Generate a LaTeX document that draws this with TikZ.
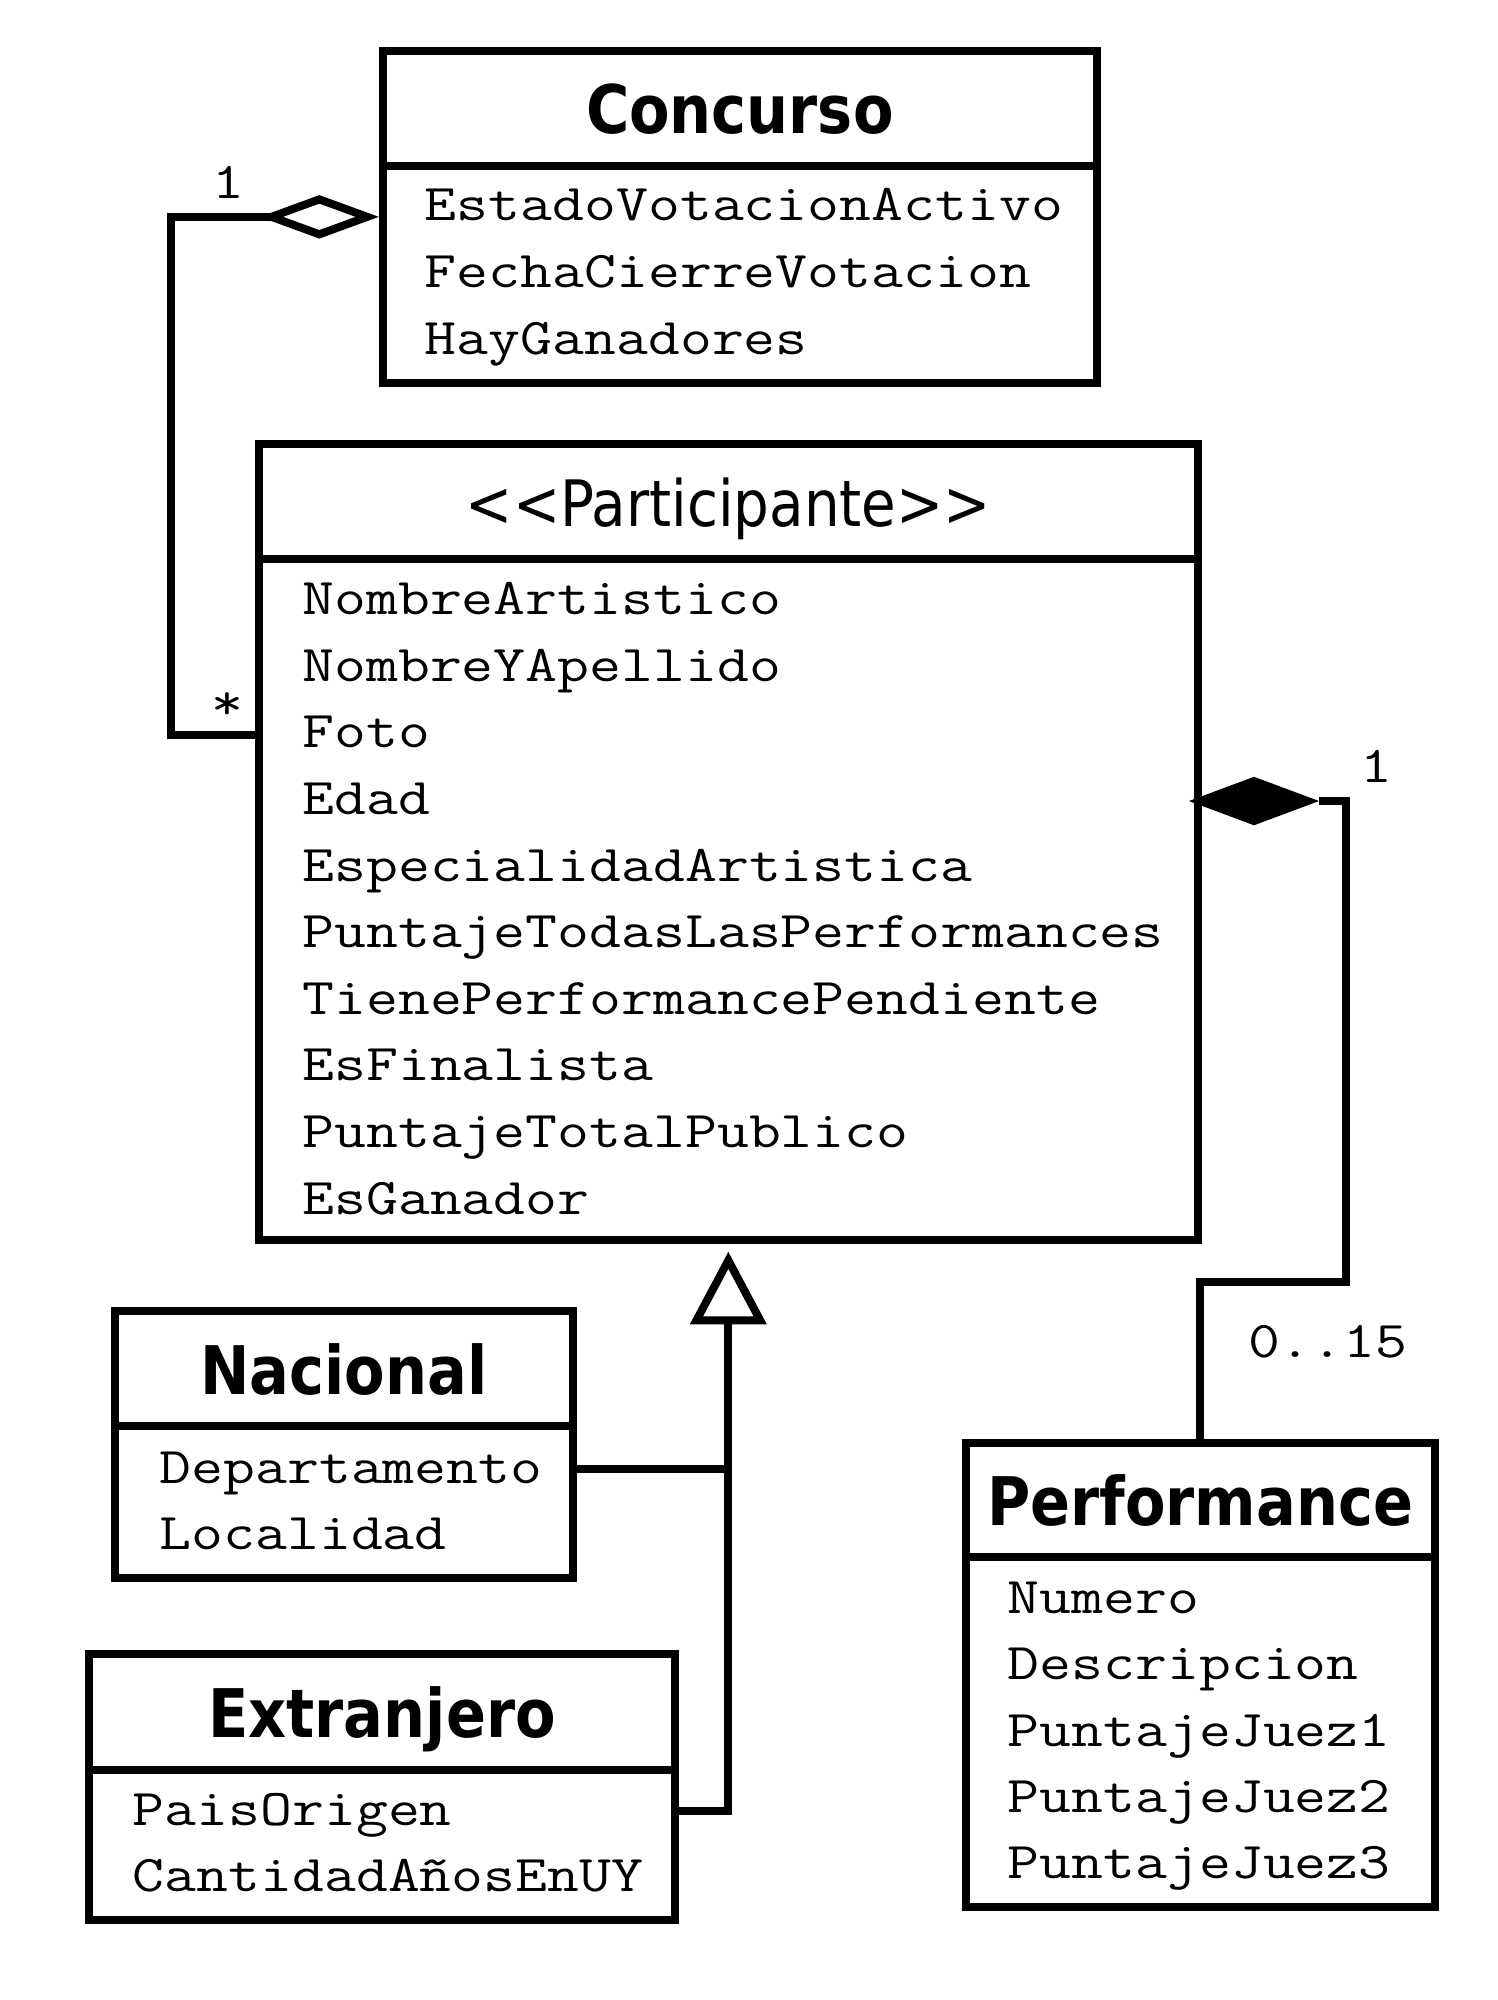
\documentclass[tikz,border=0pt]{standalone}
\usepackage{fontspec}
\usepackage{graphicx}
\usetikzlibrary{fit,calc}
\newfontfamily\headfont{DejaVu Sans}[FakeStretch=0.88]
\newcommand\sx[1]{\scalebox{1.2}[1]{#1}}
\begin{document}
\begin{tikzpicture}[x=1.2751pt, y=-1.2751pt,
  box/.style={draw, line width=8pt, inner sep=0pt, fill=white},
  conn/.style={draw, line width=8pt, miter limit=20},
  head/.style={font=\headfont\bfseries\fontsize{67}{70}\selectfont, inner sep=0pt, anchor=base},
  stereo/.style={font=\headfont\fontsize{64}{70}\selectfont, inner sep=0pt, anchor=base},
  attr/.style={font=\ttfamily\fontsize{51.6}{60}\selectfont, inner sep=0pt, anchor=base west},
  lbl/.style={font=\ttfamily\fontsize{51.6}{60}\selectfont, inner sep=0pt}
]
\useasboundingbox (0,0) rectangle (1174,1568);

% ---------- classes ----------
\node[box, fit={(300,40) (860,300)}] (concurso) {};
\draw[line width=8pt] (concurso.west |- 0,130) -- (concurso.east |- 0,130);
\node[head] (concursoT) at (580,105) {Concurso};
\foreach \t [count=\i] in {EstadoVotacionActivo, FechaCierreVotacion, HayGanadores}
  \node[attr] (ca\i) at (333, {173+52.5*(\i-1)}) {\sx{\t}};

\node[box, fit={(203,348) (939,972)}] (participante) {};
\draw[line width=8pt] (participante.west |- 0,438) -- (participante.east |- 0,438);
\node[stereo] (participanteT) at (571,413) {<\kern0pt<Participante>\kern0pt>};
\foreach \t [count=\i] in {NombreArtistico, NombreYApellido, Foto, Edad, EspecialidadArtistica, PuntajeTodasLasPerformances, TienePerformancePendiente, EsFinalista, PuntajeTotalPublico, EsGanador}
  \node[attr] (pa\i) at (237, {482+52.2*(\i-1)}) {\sx{\t}};

\node[box, fit={(90,1028) (449,1237)}] (nacional) {};
\draw[line width=8pt] (nacional.west |- 0,1118) -- (nacional.east |- 0,1118);
\node[head] (nacionalT) at (269.5,1093) {Nacional};
\foreach \t [count=\i] in {Departamento, Localidad}
  \node[attr] (na\i) at (125, {1163+52*(\i-1)}) {\sx{\t}};

\node[box, fit={(70,1297) (529,1505)}] (extranjero) {};
\draw[line width=8pt] (extranjero.west |- 0,1388) -- (extranjero.east |- 0,1388);
\node[head] (extranjeroT) at (299.5,1362) {Extranjero};
\foreach \t [count=\i] in {PaisOrigen, CantidadAñosEnUY}
  \node[attr] (ea\i) at (104, {1431+52*(\i-1)}) {\sx{\t}};

\node[box, fit={(757,1131) (1125,1495)}] (performance) {};
\draw[line width=8pt] (performance.west |- 0,1221) -- (performance.east |- 0,1221);
\node[head] (performanceT) at (941,1196) {Performance};
\foreach \t [count=\i] in {Numero, Descripcion, PuntajeJuez1, PuntajeJuez2, PuntajeJuez3}
  \node[attr] (fa\i) at (790, {1265+52*(\i-1)}) {\sx{\t}};

% ---------- aggregation Concurso <>-- Participante ----------
\coordinate (aggR) at ($(concurso.west)+(-9,0)$);
\coordinate (aggL) at ($(concurso.west)+(-84,0)$);
\draw[conn] (aggL) -- ++(-79,0) |- (participante.west |- 0,576);
\draw[conn, fill=white] (aggR) -- ($(aggR)!0.5!(aggL)+(0,-13.7)$) -- (aggL)
  -- ($(aggR)!0.5!(aggL)+(0,13.7)$) -- cycle;
\node[lbl] (m1) at (179,143) {\sx{1}};
\node[lbl, anchor=base] (m2) at (178,564) {\sx{*}};

% ---------- composition Participante <#>-- Performance ----------
\coordinate (cmpL) at ($(participante.east |- 0,628)+(-10,0)$);
\coordinate (cmpR) at ($(cmpL)+(102,0)$);
\draw[conn] (cmpR) -- ++(21,0) -- ++(0,377) -| (performance.north);
\fill (cmpL) -- ($(cmpL)+(51,-19)$) -- (cmpR) -- ($(cmpL)+(51,19)$) -- cycle;
\node[lbl] (m3) at (1079,601) {\sx{1}};
\node[lbl] (m4) at (1041,1052) {\sx{0..15}};

% ---------- generalization ----------
\coordinate (genBase) at ($(participante.south)+(0,60)$);
\draw[conn] (nacional.east |- 0,1152) -| (genBase);
\draw[conn] (extranjero.east |- 0,1420) -| (genBase);
\draw[conn, fill=white] ($(participante.south)+(0,13)$) -- ($(genBase)+(25,0)$)
  -- ($(genBase)+(-25,0)$) -- cycle;
\end{tikzpicture}
\end{document}
